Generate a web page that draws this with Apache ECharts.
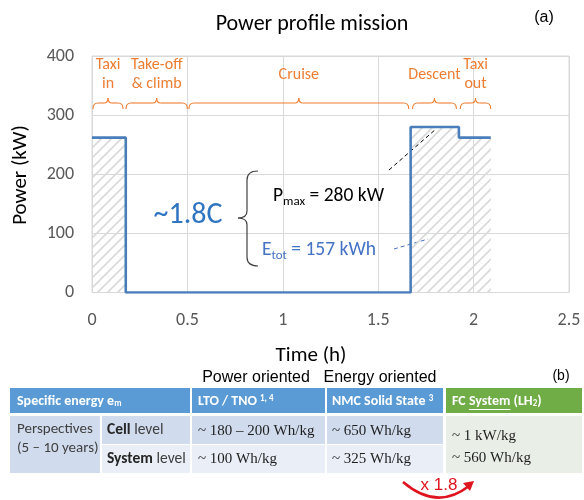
<!DOCTYPE html>
<html><head><meta charset="utf-8">
<script src="https://cdn.jsdelivr.net/npm/echarts@6/dist/echarts.min.js"></script>
<style>html,body{margin:0;padding:0;background:#fff}#c{width:584px;height:500px}</style>
</head><body><div id="c"></div>
<script>
// ---- chart data ----
const times = [0, 0.177, 1.67, 1.923, 2.09];
const power = [262, 0, 280, 262, 262];
const xTicks = [0, 0.5, 1, 1.5, 2, 2.5];
const yTicks = [0, 100, 200, 300, 400];
const phaseNames = ['Taxi\nin', 'Take-off\n& climb', 'Cruise', 'Descent', 'Taxi\nout'];
const phaseStart = [0.005, 0.178, 0.508, 1.68, 1.93];
const phaseEnd = [0.163, 0.5, 1.66, 1.91, 2.09];
// ---- table data ----
const tableHeaders = ['Specific energy e{s|m}', 'LTO / TNO {sup|1, 4}', 'NMC Solid State {sup|3}', 'FC {u|System} (LH{s|2})'];
const rowGroup = ['Perspectives', '(5 – 10 years)'];
const rowLevels = ['{b|Cell} level', '{b|System} level'];
const colLTO = ['~ 180 – 200 Wh/kg', '~ 100 Wh/kg'];
const colNMC = ['~ 650 Wh/kg', '~ 325 Wh/kg'];
const colFC = ['~ 1 kW/kg', '~ 560 Wh/kg'];
const groupLabels = ['Power oriented', 'Energy oriented'];

const SANS = 'Carlito, Lato, sans-serif';
const ARIAL = '"Liberation Sans", Arial, sans-serif';
const SERIF = '"Liberation Serif", serif';

const hatch = document.createElement('canvas');
hatch.width = 10; hatch.height = 10;
const hg = hatch.getContext('2d');
hg.strokeStyle = '#d9d9d9'; hg.lineWidth = 1.6;
hg.beginPath();
hg.moveTo(-2, 12); hg.lineTo(12, -2);
hg.moveTo(-2, 2); hg.lineTo(2, -2);
hg.moveTo(8, 12); hg.lineTo(12, 8);
hg.stroke();

const chart = echarts.init(document.getElementById('c'));
const gridLine = {show: true, lineStyle: {color: '#d9d9d9', width: 1}};
chart.setOption({
  animation: false,
  grid: {left: 92, right: 15, top: 56, bottom: 207.5, show: true, borderColor: '#d9d9d9', borderWidth: 1},
  xAxis: {type: 'value', min: xTicks[0], max: xTicks[xTicks.length - 1], interval: 0.5,
    axisLine: {show: false}, axisTick: {show: false}, splitLine: gridLine,
    axisLabel: {color: '#595959', fontSize: 18, fontFamily: SANS, margin: 19}},
  yAxis: {type: 'value', min: yTicks[0], max: yTicks[yTicks.length - 1], interval: 100,
    axisLine: {show: false}, axisTick: {show: false}, splitLine: gridLine,
    axisLabel: {color: '#595959', fontSize: 18, fontFamily: SANS, margin: 18}},
  series: [{
    type: 'line', step: 'end', symbol: 'none',
    data: times.map((t, i) => [t, power[i]]),
    lineStyle: {color: '#4a7ebb', width: 2.6},
    areaStyle: {color: {image: hatch, repeat: 'repeat'}, opacity: 1}
  }]
});

const px = t => chart.convertToPixel({gridIndex: 0}, [t, 0])[0];
const mctx = document.createElement('canvas').getContext('2d');
const measure = (txt, font) => { mctx.font = font; return mctx.measureText(txt).width; };
const G = [];
const curve = (x1, y1, cx, cy, x2, y2, color, w) => G.push({type: 'bezierCurve', shape: {x1, y1, cpx1: cx, cpy1: cy, x2, y2}, style: {stroke: color, lineWidth: w, fill: null}});
const seg = (x1, y1, x2, y2, color, w, dash) => G.push({type: 'line', shape: {x1, y1, x2, y2}, style: {stroke: color, lineWidth: w, lineDash: dash || null}});

// title & axis names
G.push({type: 'text', x: 312, y: 24, style: {text: 'Power profile mission', font: '22px ' + SANS, fill: '#000', align: 'center', verticalAlign: 'middle'}});
G.push({type: 'text', x: 544, y: 18, style: {text: '(a)', font: '16px ' + ARIAL, fill: '#000', align: 'center', verticalAlign: 'middle'}});
G.push({type: 'text', x: 311, y: 356, style: {text: 'Time (h)', font: '21px ' + SANS, fill: '#000', align: 'center', verticalAlign: 'middle'}});
G.push({type: 'text', x: 21, y: 175, rotation: Math.PI / 2, style: {text: 'Power (kW)', font: '21px ' + SANS, fill: '#000', align: 'center', verticalAlign: 'middle'}});

// phase braces
const OR = '#ed7d31';
phaseNames.forEach((name, i) => {
  const x1 = px(phaseStart[i]), x2 = px(phaseEnd[i]), m = (x1 + x2) / 2;
  const y = 103;
  curve(x1, y + 6, x1, y, x1 + 5, y, OR, 1.1);
  seg(x1 + 5, y, m - 4, y, OR, 1.1);
  curve(m - 4, y, m, y, m, y - 5, OR, 1.1);
  curve(m, y - 5, m, y, m + 4, y, OR, 1.1);
  seg(m + 4, y, x2 - 5, y, OR, 1.1);
  curve(x2 - 5, y, x2, y, x2, y + 6, OR, 1.1);
  G.push({type: 'text', x: m, y: 74.5, style: {text: name, font: '16px ' + SANS, lineHeight: 19, fill: OR, align: 'center', verticalAlign: 'middle'}});
});

// annotations
G.push({type: 'text', x: 188, y: 215, style: {text: '~1.8C', font: '30px ' + SANS, fill: '#2e74c0', align: 'center', verticalAlign: 'middle'}});
const K = '#404040';
curve(258, 171, 247, 171, 247, 180, K, 1.2);
seg(247, 180, 247, 211, K, 1.2);
curve(247, 211, 247, 218, 238, 218, K, 1.2);
curve(238, 218, 247, 218, 247, 225, K, 1.2);
seg(247, 225, 247, 257, K, 1.2);
curve(247, 257, 247, 266, 258, 266, K, 1.2);
G.push({type: 'text', x: 273, y: 196, style: {text: '{p|P}{s|max}{p| = 280 kW}', align: 'left', verticalAlign: 'middle',
  rich: {p: {fontSize: 19.5, fontFamily: SANS, fill: '#000', lineHeight: 24}, s: {fontSize: 13, fontFamily: SANS, fill: '#000', lineHeight: 10, verticalAlign: 'bottom'}}}});
G.push({type: 'text', x: 262, y: 250, style: {text: '{p|E}{s|tot}{p| = 157 kWh}', align: 'left', verticalAlign: 'middle',
  rich: {p: {fontSize: 19.5, fontFamily: SANS, fill: '#4472c4', lineHeight: 24}, s: {fontSize: 13, fontFamily: SANS, fill: '#4472c4', lineHeight: 10, verticalAlign: 'bottom'}}}});
seg(389, 170, 436, 129, '#000', 1, [4, 3]);
seg(394, 249, 428, 239, '#4472c4', 1, [4, 3]);

// table
const blue = '#5b9bd5', green = '#70ad47', dark = '#d0dcee', light = '#e9eef7', greenBody = '#e9eee6';
const rect = (x, y, w, h, c) => G.push({type: 'rect', shape: {x, y, width: w, height: h}, style: {fill: c}});
rect(10, 388, 180, 25, blue);
rect(192, 388, 133, 25, blue);
rect(327, 388, 116, 25, blue);
rect(446, 388, 136, 25, green);
rect(10, 416, 90, 57, dark);
rect(102, 416, 88, 28, dark); rect(102, 445, 88, 28, light);
rect(192, 416, 133, 28, dark); rect(192, 445, 133, 28, light);
rect(327, 416, 116, 28, dark); rect(327, 445, 116, 28, light);
rect(446, 416, 136, 57, greenBody);

const HF = 'bold 14px Carlito, Lato, sans-serif';
const hdrRich = {
  h: {fontSize: 14, fontFamily: SANS, fontWeight: 'bold', fill: '#fff'},
  s: {fontSize: 9, fontFamily: SANS, fontWeight: 'bold', fill: '#fff', verticalAlign: 'bottom', lineHeight: 8},
  sup: {fontSize: 9, fontFamily: SANS, fontWeight: 'bold', fill: '#fff', verticalAlign: 'top', lineHeight: 8},
  u: {fontSize: 14, fontFamily: SANS, fontWeight: 'bold', fill: '#fff'}
};
const hx = [17, 198, 332, 452];
tableHeaders.forEach((t, i) => {
  const txt = t.split(/(\{[a-z]+\|[^}]*\})/).filter(s => s).map(s => s.startsWith('{') ? s : '{h|' + s + '}').join('');
  G.push({type: 'text', x: hx[i], y: 401, style: {text: txt, align: 'left', verticalAlign: 'middle', rich: hdrRich}});
});
// underline under "System" in FC header
const uStart = hx[3] + measure('FC ', HF), uLen = measure('System', HF);
seg(uStart, 409.5, uStart + uLen, 409.5, '#fff', 1);

G.push({type: 'text', x: 17, y: 439, style: {text: rowGroup.join('\n'), font: '15px ' + SANS, lineHeight: 19, fill: '#404040', align: 'left', verticalAlign: 'middle'}});
rowLevels.forEach((t, i) => {
  G.push({type: 'text', x: 107, y: [430, 459][i], style: {text: t.replace(/ level/, '{n| level}'), align: 'left', verticalAlign: 'middle',
    rich: {b: {fontSize: 15.5, fontFamily: SANS, fontWeight: 'bold', fill: '#262626'}, n: {fontSize: 15.5, fontFamily: SANS, fill: '#404040'}}}});
});
const vy = [431, 459];
const VF = '15px ' + SERIF;
colLTO.forEach((t, i) => G.push({type: 'text', x: 198, y: vy[i], style: {text: t, font: VF, fill: '#1e1e1e', align: 'left', verticalAlign: 'middle'}}));
colNMC.forEach((t, i) => G.push({type: 'text', x: 332, y: vy[i], style: {text: t, font: VF, fill: '#1e1e1e', align: 'left', verticalAlign: 'middle'}}));
colFC.forEach((t, i) => G.push({type: 'text', x: 452, y: [436, 458][i], style: {text: t, font: VF, fill: '#1e1e1e', align: 'left', verticalAlign: 'middle'}}));

G.push({type: 'text', x: 256, y: 378, style: {text: groupLabels[0], font: '16px ' + ARIAL, fill: '#000', align: 'center', verticalAlign: 'middle'}});
G.push({type: 'text', x: 380, y: 378, style: {text: groupLabels[1], font: '16px ' + ARIAL, fill: '#000', align: 'center', verticalAlign: 'middle'}});
G.push({type: 'text', x: 561, y: 376, style: {text: '(b)', font: '14px ' + ARIAL, fill: '#000', align: 'center', verticalAlign: 'middle'}});

// x 1.8 arrow
curve(403, 482, 437, 511, 469, 486, '#e0141e', 2.6);
G.push({type: 'polygon', shape: {points: [[474, 481], [463, 483], [470, 491]]}, style: {fill: '#e0141e'}});
G.push({type: 'text', x: 439, y: 485, style: {text: 'x 1.8', font: '17px ' + ARIAL, fill: '#e0141e', align: 'center', verticalAlign: 'middle'}});

chart.setOption({graphic: G});
</script></body></html>
